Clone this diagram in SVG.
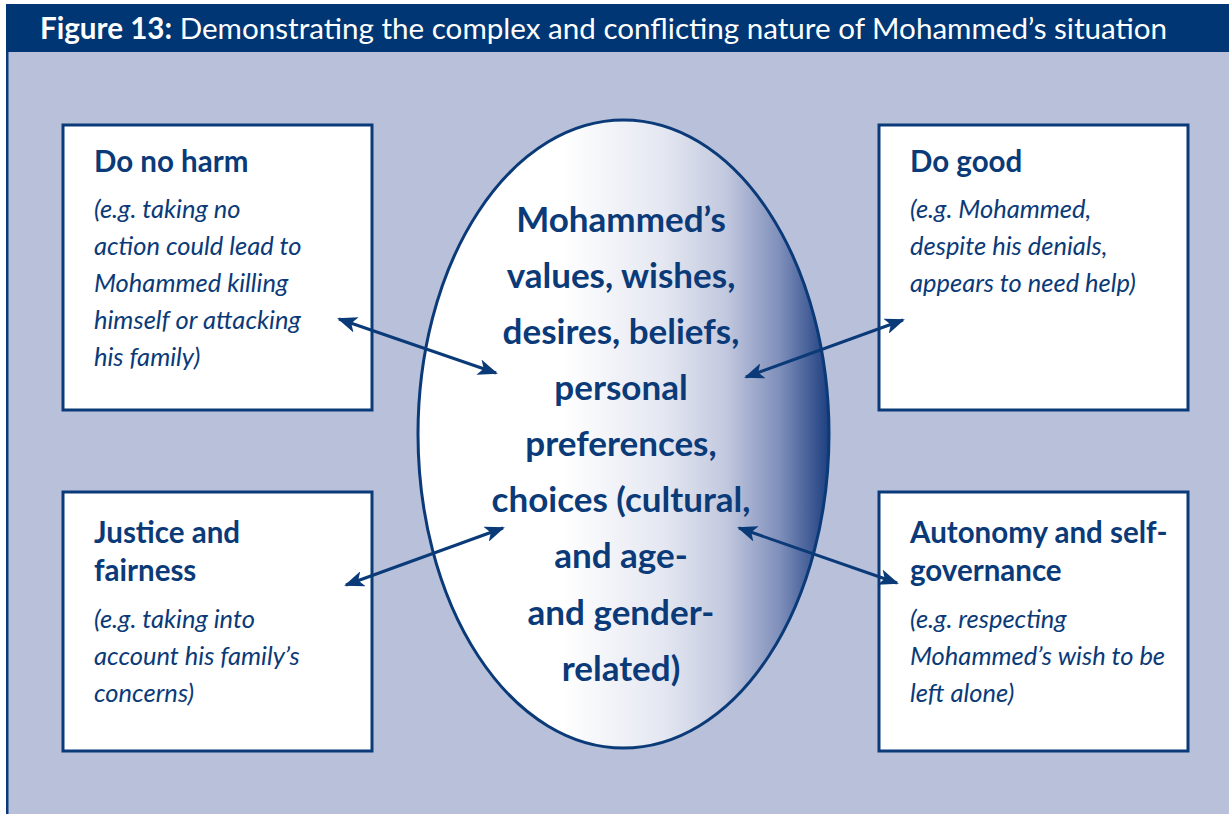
<svg xmlns="http://www.w3.org/2000/svg" width="1229" height="814" viewBox="0 0 1229 814">
  <defs>
    <linearGradient id="ovalFill" x1="0" y1="0" x2="1" y2="0">
      <stop offset="0" stop-color="#ffffff"/>
      <stop offset="0.35" stop-color="#ffffff"/>
      <stop offset="0.6" stop-color="#e4e7f1"/>
      <stop offset="0.75" stop-color="#c2c8de"/>
      <stop offset="0.88" stop-color="#7f8fbb"/>
      <stop offset="1" stop-color="#1e3f80"/>
    </linearGradient>
    <marker id="head" viewBox="0 0 20 16" refX="18" refY="8" markerWidth="20" markerHeight="16" markerUnits="userSpaceOnUse" orient="auto-start-reverse">
      <path d="M0,0 L20,8 L0,16 L5,8 Z" fill="#0b3a78"/>
    </marker>
  </defs>
  <style>
    .box { fill: #ffffff; stroke: #0b3a78; stroke-width: 3; }
    .title { font-family: Lato, "Open Sans", sans-serif; font-weight: 700; font-size: 29.5px; fill: #0b3a78; }
    .note { font-family: Lato, "Open Sans", sans-serif; font-style: italic; font-size: 25.5px; fill: #0b3a78; }
    .centre { font-family: Lato, "Open Sans", sans-serif; font-weight: 700; font-size: 35px; fill: #0b3a78; text-anchor: middle; }
    .conn { stroke: #0b3a78; stroke-width: 3; fill: none; marker-start: url(#head); marker-end: url(#head); }
  </style>

  <!-- panel and heading band -->
  <rect x="6" y="4" width="1223" height="810" fill="#b8c0da"/>
  <rect x="6" y="52" width="2.5" height="762" fill="#0b3a78"/>
  <rect x="6" y="4" width="1223" height="48" fill="#003674"/>
  <text x="40" y="39" font-family="Lato, 'Open Sans', sans-serif" font-size="29.6" fill="#ffffff"><tspan font-weight="700">Figure 13:</tspan> Demonstrating the complex and conflicting nature of Mohammed’s situation</text>

  <!-- central oval -->
  <g id="centre">
    <ellipse cx="623.5" cy="434" rx="205.5" ry="314" fill="url(#ovalFill)" stroke="#0b3a78" stroke-width="3"/>
    <text class="centre" x="621" y="232">Mohammed’s</text>
    <text class="centre" x="621" y="288">values, wishes,</text>
    <text class="centre" x="621" y="344">desires, beliefs,</text>
    <text class="centre" x="621" y="400">personal</text>
    <text class="centre" x="621" y="456">preferences,</text>
    <text class="centre" x="621" y="512">choices (cultural,</text>
    <text class="centre" x="621" y="568">and age-</text>
    <text class="centre" x="621" y="625">and gender-</text>
    <text class="centre" x="621" y="681">related)</text>
  </g>

  <g id="do-no-harm">
    <rect class="box" x="63" y="125" width="309" height="285"/>
    <text class="title" x="94" y="172">Do no harm</text>
    <text class="note" x="94" y="218">(e.g. taking no</text>
    <text class="note" x="94" y="255">action could lead to</text>
    <text class="note" x="94" y="292">Mohammed killing</text>
    <text class="note" x="94" y="329">himself or attacking</text>
    <text class="note" x="94" y="366">his family)</text>
  </g>

  <g id="do-good">
    <rect class="box" x="879" y="125" width="309" height="285"/>
    <text class="title" x="910" y="172">Do good</text>
    <text class="note" x="910" y="218">(e.g. Mohammed,</text>
    <text class="note" x="910" y="255">despite his denials,</text>
    <text class="note" x="910" y="292">appears to need help)</text>
  </g>

  <g id="justice">
    <rect class="box" x="63" y="492" width="309" height="259"/>
    <text class="title" x="94" y="543">Justice and</text>
    <text class="title" x="94" y="581">fairness</text>
    <text class="note" x="94" y="628">(e.g. taking into</text>
    <text class="note" x="94" y="665">account his family’s</text>
    <text class="note" x="94" y="702">concerns)</text>
  </g>

  <g id="autonomy">
    <rect class="box" x="879" y="492" width="309" height="259"/>
    <text class="title" x="910" y="543">Autonomy and self-</text>
    <text class="title" x="910" y="581">governance</text>
    <text class="note" x="910" y="628">(e.g. respecting</text>
    <text class="note" x="910" y="665">Mohammed’s wish to be</text>
    <text class="note" x="910" y="702">left alone)</text>
  </g>

  <!-- two-way connectors between the oval and each principle -->
  <g id="connectors">
    <line class="conn" x1="339" y1="319" x2="496" y2="373"/>
    <line class="conn" x1="746" y1="377" x2="903" y2="320"/>
    <line class="conn" x1="346" y1="585" x2="503" y2="528"/>
    <line class="conn" x1="739" y1="528" x2="897" y2="583"/>
  </g>
</svg>
